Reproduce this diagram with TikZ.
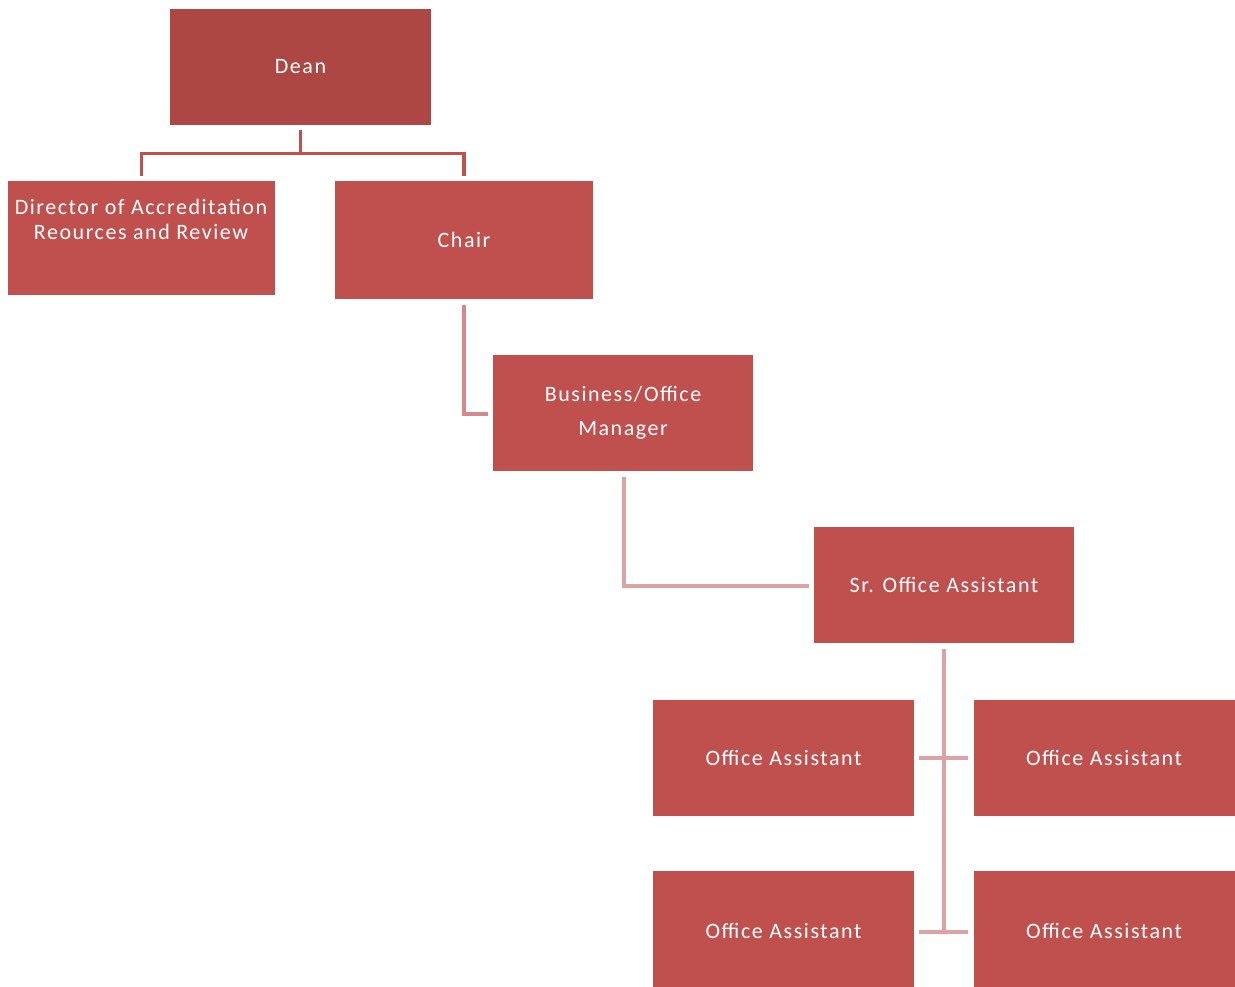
\documentclass[tikz,border=0pt]{standalone}
\usepackage{fontspec}
\setmainfont{Carlito}[LetterSpace=7]
\usetikzlibrary{calc}
\definecolor{deanred}{HTML}{AD4744}
\definecolor{boxred}{HTML}{C0504D}
\definecolor{linea}{HTML}{C0504D}
\definecolor{lineb}{HTML}{D48A8B}
\definecolor{linec}{HTML}{DCA3A4}
\begin{document}
\begin{tikzpicture}[x=0.75pt,y=-0.75pt,
  box/.style={fill=boxred,draw=none,inner sep=0pt,minimum width=261*0.75pt,minimum height=116*0.75pt,text=white,font=\fontsize{16.5}{19}\selectfont,align=center},
  conn/.style={line width=2.3pt,line join=miter},
  txt/.style={text=white,font=\fontsize{16.5}{18.75}\selectfont,align=center,inner sep=0pt}]
\useasboundingbox (0,0) rectangle (1235,986);
\node[box,fill=deanred] (dean) at (300.5,67) {Dean};
\node[box,minimum width=267*0.75pt,minimum height=114*0.75pt] (dir) at (141.5,238) {};
\node[txt] (dirtext) at (141,219.5) {Director of Accreditation\\Reources and Review};
\node[box,minimum width=258*0.75pt,minimum height=118*0.75pt] (chair) at (464,240) {Chair};
\node[box,minimum width=260*0.75pt,font=\fontsize{16.5}{25.5}\selectfont] (mgr) at (623,413) {Business/Office\\Manager};
\node[box,minimum width=260*0.75pt] (sr) at (944,585) {Sr. Office Assistant};
\node[box] (oa1) at (783.5,758) {Office Assistant};
\node[box] (oa2) at (1104,758) {Office Assistant};
\node[box,minimum height=120*0.75pt] (oa3) at (783.5,931) {Office Assistant};
\node[box,minimum height=120*0.75pt] (oa4) at (1104,931) {Office Assistant};
% Dean connectors
\coordinate (tj) at ($(dean.south)+(0,28)$);
\draw[conn,linea] ($(dean.south)+(0,5)$) -- (tj);
\draw[conn,linea] ($(dir.north)+(0,-5)$) |- (tj) -| ($(chair.north)+(0,-5)$);
% Chair to manager
\draw[conn,lineb] ($(chair.south)+(0,6)$) |- ($(mgr.west)+(-5,1)$);
% Manager to Sr
\draw[conn,linec] ($(mgr.south)+(1,6)$) |- ($(sr.west)+(-5,1)$);
% Sr to office assistants
\draw[conn,linec] ($(sr.south)+(0,6)$) -- ($(sr.south)+(0,289)$);
\draw[conn,linec] ($(oa1.east)+(5,0)$) -- ($(oa2.west)+(-5,0)$);
\draw[conn,linec] ($(oa3.east)+(5,1)$) -- ($(oa4.west)+(-5,1)$);
\end{tikzpicture}
\end{document}
